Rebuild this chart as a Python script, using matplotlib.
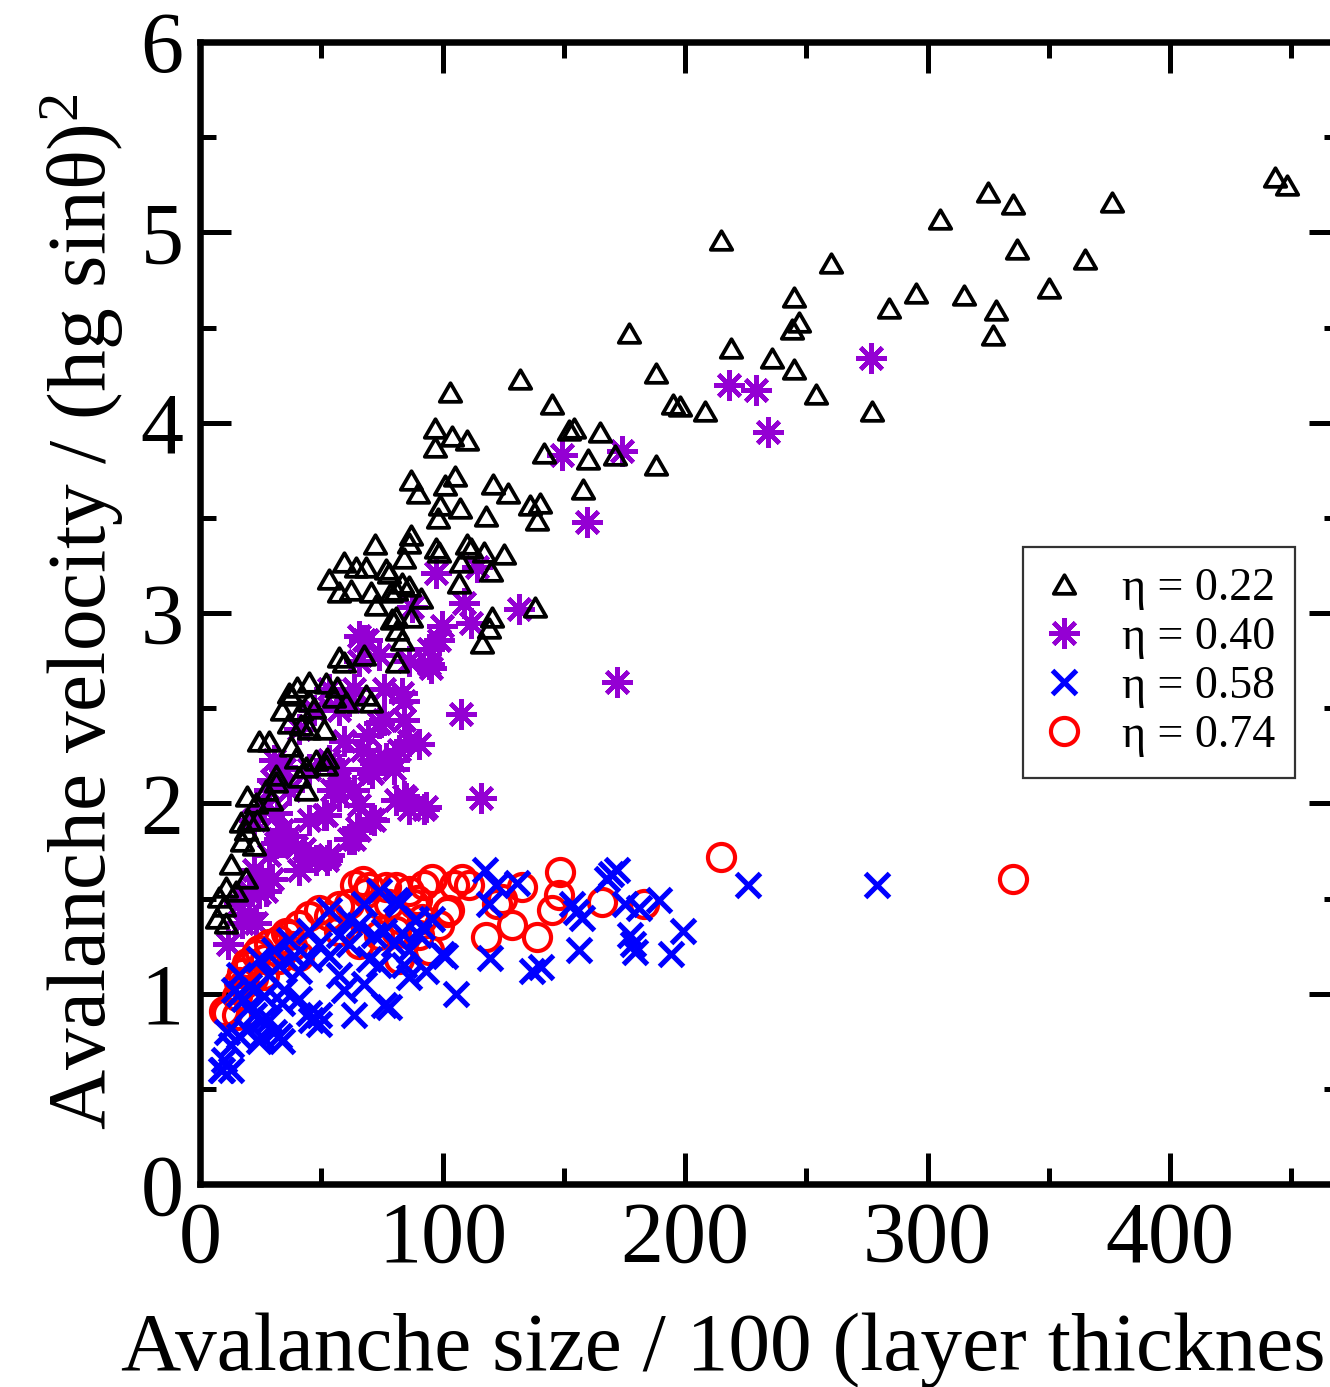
import matplotlib
matplotlib.use('Agg')
import matplotlib.pyplot as plt
from matplotlib.lines import Line2D
from matplotlib.path import Path
from matplotlib.ticker import MultipleLocator

plt.rcParams['font.family'] = ['Liberation Serif', 'DejaVu Serif']
plt.rcParams['mathtext.fontset'] = 'custom'
plt.rcParams['mathtext.rm'] = 'Liberation Serif'
plt.rcParams['mathtext.it'] = 'Liberation Serif:italic'

# ---------------- data ----------------
# eta = 0.22 (black triangles)
x22 = [443, 448, 325, 335, 376, 305, 337, 215, 365, 260, 350, 295, 315, 284, 328, 245, 247, 244, 327, 177,
       219, 236, 245, 188, 254, 132, 195, 198, 208, 277, 103, 145, 97, 152, 154, 165, 104, 110, 97, 142,
       160, 171, 188, 105, 87, 101, 121, 127, 90, 158, 136, 140, 99, 107, 139, 118, 98,
       87.0, 86.2, 84.2, 97.4, 98.6, 110.1, 111.8, 117.2, 125.4, 107.7, 120.0, 106.8, 78.0, 83.3, 86.2, 80.9,
       91.2, 87.0, 80.9, 83.3, 81.3, 138.2, 120.5, 119.2, 116.3,
       72.2, 59.4, 53.2, 64.4, 68.5, 76.7, 57.3, 62.3, 70.5, 72.6, 78.8, 79.2, 81.3, 57.3, 67.7, 59.4, 45.0,
       40.0, 36.7, 52.0, 56.5, 68.5,
       37.5, 45.0, 55.3, 60.2, 70.5, 33.8, 41.7, 47.0, 36.7, 41.7, 51.2, 45.0, 24.3, 28.5, 37.5, 39.6, 47.9,
       52.4, 52.0, 43.7, 31.4, 40.8, 31.4, 43.7, 27.2, 19.4, 29.3, 23.1, 16.9, 20.2, 23.5, 19.0, 22.3, 17.3,
       12.8, 19.0, 10.7, 14.9, 7.8, 9.9, 7.0, 10.7]
y22 = [5.29, 5.25, 5.21, 5.15, 5.16, 5.07, 4.91, 4.96, 4.86, 4.84, 4.71, 4.68, 4.67, 4.60, 4.59, 4.66, 4.53, 4.49, 4.46, 4.47,
       4.39, 4.34, 4.28, 4.26, 4.15, 4.23, 4.10, 4.09, 4.06, 4.06, 4.16, 4.10, 3.97, 3.96, 3.97, 3.95, 3.93, 3.91, 3.87, 3.84,
       3.81, 3.83, 3.78, 3.72, 3.70, 3.67, 3.68, 3.63, 3.63, 3.65, 3.57, 3.58, 3.57, 3.55, 3.49, 3.51, 3.50,
       3.41, 3.37, 3.29, 3.34, 3.32, 3.36, 3.34, 3.32, 3.31, 3.27, 3.22, 3.16, 3.21, 3.16, 3.14, 3.12,
       3.08, 2.98, 2.98, 2.86, 2.74, 3.03, 2.98, 2.92, 2.84,
       3.36, 3.27, 3.18, 3.24, 3.24, 3.23, 3.11, 3.12, 3.11, 3.04, 3.11, 2.97, 2.91, 2.77, 2.78, 2.74, 2.64,
       2.61, 2.58, 2.63, 2.61, 2.57,
       2.57, 2.54, 2.56, 2.53, 2.53, 2.49, 2.49, 2.50, 2.42, 2.41, 2.39, 2.39, 2.33, 2.33, 2.30, 2.24, 2.23,
       2.24, 2.20, 2.19, 2.15, 2.14, 2.11, 2.07, 2.07, 2.04, 2.02, 2.00, 1.90, 1.91, 1.91, 1.86, 1.78, 1.80,
       1.68, 1.61, 1.56, 1.54, 1.51, 1.46, 1.40, 1.37]

# eta = 0.40 (purple asterisks)
x40 = [276.8, 218.2, 229.4, 234.3, 149.3, 174.1, 159.7, 172.0, 131.6, 115.9, 107.7, 97.4, 114.3, 108.9, 99.8,
       111.8, 94.5, 95.3, 83.3, 87.5,
       11.6, 16.1, 20.2, 22.3, 25.2, 29.7, 28.5, 32.6, 36.7, 40.8, 42.9, 47.9, 53.2, 45.0, 51.2, 57.3, 63.5,
       65.6, 71.8, 63.5, 36.7, 34.7, 45.0, 53.2, 59.4, 57.3, 63.5, 65.6, 67.7, 73.8, 75.9, 69.3, 69.7, 80.0,
       82.1, 86.2, 90.4, 84.2, 84.2, 73.8, 84.2, 86.2, 92.4, 80.0, 94.5, 86.2, 98.6, 75.9, 61.5, 53.2, 47.0,
       40.8, 30.5, 28.5, 26.4, 22.3, 57.3, 65.6,
       23.1, 27.2, 39.6, 45.0, 52.4, 61.5, 64.8, 70.5, 52.0, 54.5, 57.3, 71.0, 73.8, 66.8, 76.7, 33.8, 31.4,
       29.7, 33.8, 31.8, 24.3, 20.2, 17.3, 85.0, 80.9, 93.2, 65.6, 69.0]
y40 = [4.34, 4.20, 4.17, 3.95, 3.83, 3.85, 3.48, 2.64, 3.02, 2.03, 2.47, 3.21, 3.24, 3.05, 2.93,
       2.95, 2.81, 2.71, 2.58, 3.03,
       1.26, 1.47, 1.54, 1.65, 1.60, 1.60, 1.73, 1.81, 1.83, 1.65, 1.76, 1.70, 1.73, 1.91, 1.94, 2.04, 1.81,
       1.86, 1.91, 2.07, 2.07, 2.18, 2.18, 2.23, 2.33, 2.49, 2.60, 2.75, 2.86, 2.78, 2.44, 2.36, 2.18, 2.23,
       2.28, 2.33, 2.31, 2.54, 2.44, 2.23, 2.04, 1.97, 1.97, 2.18, 2.73, 2.75, 2.86, 2.60, 2.54, 2.60, 2.49,
       2.39, 2.23, 2.07, 1.97, 1.91, 2.18, 1.99,
       1.37, 1.54, 1.77, 1.72, 1.70, 1.81, 1.87, 1.92, 1.94, 2.07, 2.11, 2.16, 2.42, 2.28, 2.24, 1.86, 1.79,
       2.12, 2.19, 1.95, 1.53, 1.42, 1.37, 2.03, 2.02, 1.98, 2.88, 2.86]

# eta = 0.58 (blue crosses)
x58 = [279.3, 226.1, 199.3, 194.3, 189.4, 178.6, 172.0, 167.9, 175.3, 177.1, 179.5, 156.4, 157.6, 153.5,
       137.0, 119.6, 117.5, 122.0, 130.8, 119.2, 105.6, 101.1, 169.6, 181.1, 155.1, 140.7,
       78.0, 95.7, 99.8, 93.2, 80.9, 83.3, 86.2, 89.1, 91.6,
       8.7, 9.9, 12.8, 16.1, 19.4, 25.2, 32.6, 28.5, 22.3, 18.2, 26.4, 34.7, 40.8, 45.8, 49.1, 40.8, 45.0,
       53.2, 57.3, 63.5, 59.4, 67.7, 69.7, 53.2, 61.5, 75.9, 73.8, 80.0, 73.8, 67.7, 82.1, 61.5, 45.0, 36.7,
       30.5, 24.3, 28.5, 32.6, 38.8, 49.1, 57.3, 65.6, 71.8, 75.9, 86.2, 90.4, 84.2, 20.2, 16.1, 14.0,
       16.1, 20.2, 11.1, 9.1, 12.8, 24.3, 30.5, 33.8, 45.0, 49.1, 33.8, 25.6]
y58 = [1.57, 1.57, 1.33, 1.21, 1.49, 1.26, 1.65, 1.60, 1.47, 1.31, 1.22, 1.23, 1.40, 1.47,
       1.12, 1.19, 1.65, 1.57, 1.58, 1.47, 1.00, 1.20, 1.63, 1.45, 1.43, 1.14,
       0.93, 1.39, 1.21, 1.12, 1.49, 1.32, 1.09, 1.39, 1.35,
       0.60, 0.65, 0.73, 0.78, 0.81, 0.78, 0.78, 0.86, 0.89, 0.97, 0.99, 1.02, 0.97, 0.86, 0.89, 1.12, 1.18,
       1.20, 1.10, 0.89, 1.02, 1.05, 1.18, 1.44, 1.26, 0.94, 1.15, 1.26, 1.54, 1.47, 1.47, 1.39, 1.33, 1.28,
       1.23, 1.18, 1.10, 1.15, 1.20, 1.26, 1.31, 1.36, 1.31, 1.33, 1.23, 1.31, 1.15, 1.04, 1.10, 1.02,
       1.00, 0.93, 0.80, 0.60, 0.60, 0.75, 0.80, 0.75, 0.90, 0.84, 0.95, 0.86]

# eta = 0.74 (red circles)
x74 = [335.0, 215.0, 165.8, 183.2, 148.5, 148.1, 145.2, 132.8, 128.7, 139.0, 118.0, 122.5, 111.0, 108.1,
       104.8, 102.7, 95.7, 92.4, 86.2, 80.9, 73.8, 63.9, 69.7, 78.0, 94.5, 82.1, 61.5, 53.2, 49.1, 45.0,
       40.8, 36.7, 32.6, 28.5, 24.3, 20.2, 18.2, 15.3, 11.1, 15.3, 26.4, 32.6, 40.8, 57.3, 65.6, 73.8,
       82.1, 90.4, 98.6, 88.3,
       124.6, 101.9, 89.5, 91.6, 80.9, 67.0, 76.7, 35.5, 23.1, 19.4, 17.3, 16.1, 9.9, 57.3, 68.5, 38.0,
       27.0, 22.0]
y74 = [1.60, 1.72, 1.48, 1.47, 1.64, 1.52, 1.44, 1.56, 1.36, 1.30, 1.30, 1.47, 1.57, 1.60,
       1.57, 1.44, 1.60, 1.57, 1.54, 1.56, 1.47, 1.57, 1.56, 1.47, 1.23, 1.39, 1.47, 1.41, 1.44, 1.41,
       1.36, 1.31, 1.28, 1.26, 1.23, 1.15, 1.05, 0.99, 0.90, 0.89, 1.10, 1.18, 1.20, 1.33, 1.26, 1.31,
       1.18, 1.31, 1.36, 1.47,
       1.50, 1.43, 1.49, 1.39, 1.33, 1.59, 1.56, 1.32, 1.21, 1.16, 1.11, 1.06, 0.91, 1.46, 1.53, 1.25,
       1.18, 1.08]

legend_labels = ['η = 0.22', 'η = 0.40', 'η = 0.58', 'η = 0.74']
x_ticks = [0, 100, 200, 300, 400]
y_ticks = [0, 1, 2, 3, 4, 5, 6]
x_label = 'Avalanche size / 100 (layer thicknes'
y_label = 'Avalanche velocity / (hg sinθ)$^{2}$'

# ---------------- figure ----------------
W, H = 1330, 1387
fig = plt.figure(figsize=(W / 100, H / 100), dpi=100)
ax = fig.add_axes([200 / W, 1 - 1184 / H, 1140 / W, (1184 - 42) / H])

purple = '#9400D3'
tri = Path([(-1, -0.866), (1, -0.866), (0, 0.866), (0, 0)],
           [Path.MOVETO, Path.LINETO, Path.LINETO, Path.CLOSEPOLY])
s22 = dict(ls='none', marker=tri, ms=15.5, mfc='none', mec='black', mew=2.7)
s40 = dict(ls='none', marker=(8, 2, 0), ms=22, color=purple, mew=3.2)
s58 = dict(ls='none', marker='x', ms=17, color='blue', mew=3.7)
s74 = dict(ls='none', marker='o', ms=19.5, mfc='none', mec='red', mew=3.0)

ax.plot(x40, y40, **s40)
ax.plot(x22, y22, **s22)
ax.plot(x74, y74, **s74)
ax.plot(x58, y58, **s58)

ax.set_xlim(0, 470)
ax.set_ylim(0, 6)
ax.set_xticks(x_ticks)
ax.set_yticks(y_ticks)
ax.xaxis.set_minor_locator(MultipleLocator(50))
ax.yaxis.set_minor_locator(MultipleLocator(0.5))
for sp in ax.spines.values():
    sp.set_linewidth(4.7)
ax.tick_params(which='both', direction='in', top=True, right=True, width=3.6)
ax.tick_params(which='major', length=22, labelsize=62, pad=12)
ax.tick_params(which='minor', length=11.5)

fig.text(121 / W, 1 - 1370 / H, x_label, fontsize=60, ha='left', va='baseline')
fig.text(106 / W, 1 - 1130 / H, y_label, fontsize=60, rotation=90,
         rotation_mode='anchor', ha='left', va='baseline')

handles = [Line2D([], [], **s22), Line2D([], [], **s40), Line2D([], [], **s58), Line2D([], [], **s74)]
leg = ax.legend(handles, legend_labels, loc='upper left', bbox_to_anchor=(1023 / W, 1 - 547 / H),
                bbox_transform=fig.transFigure, fontsize=33, frameon=True, fancybox=False,
                borderaxespad=0, borderpad=0.45, labelspacing=0.14, handlelength=0.9,
                handletextpad=0.8, numpoints=1)
leg.get_frame().set_edgecolor('black')
leg.get_frame().set_linewidth(1.6)

fig.savefig('out.png', dpi=100)
